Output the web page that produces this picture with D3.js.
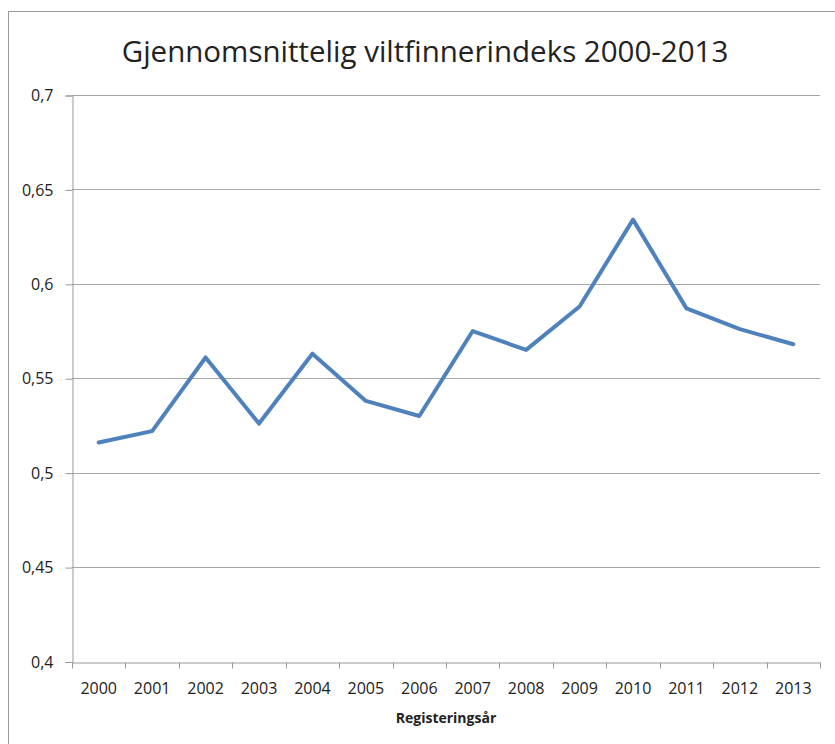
<!DOCTYPE html>
<html>
<head>
<meta charset="utf-8">
<script src="https://cdn.jsdelivr.net/npm/d3@7"></script>
<style>
  body { margin: 0; background: #fff; }
  text { font-family: "Open Sans", "Noto Sans", sans-serif; fill: #222; }
</style>
</head>
<body>
<div id="chart"></div>
<script>
const years = ['2000', '2001', '2002', '2003', '2004', '2005', '2006',
  '2007', '2008', '2009', '2010', '2011', '2012', '2013'];
const index = [0.516, 0.522, 0.561, 0.526, 0.563, 0.538, 0.530,
  0.575, 0.565, 0.588, 0.634, 0.587, 0.576, 0.568];
const yTicks = [0.4, 0.45, 0.5, 0.55, 0.6, 0.65, 0.7];

const width = 835;
const height = 744;
const margin = { top: 95, right: 15, bottom: 82, left: 72 };

const svg = d3.select('#chart').append('svg')
  .attr('width', width)
  .attr('height', height);

// frame around the chart area
svg.append('rect')
  .attr('x', 8.5).attr('y', 11.5)
  .attr('width', width).attr('height', height)
  .attr('fill', 'none')
  .attr('stroke', '#9a9a9a');

const x = d3.scaleBand()
  .domain(years)
  .range([margin.left, width - margin.right])
  .padding(0);

const y = d3.scaleLinear()
  .domain([0.4, 0.7])
  .range([height - margin.bottom - 0.5, margin.top]);

const fmt = (d) => String(+d.toFixed(2)).replace('.', ',');

// gridlines
svg.append('g')
  .selectAll('line')
  .data(yTicks.slice(1))
  .join('line')
  .attr('x1', margin.left)
  .attr('x2', width - margin.right)
  .attr('y1', (d) => Math.round(y(d)) + 0.5)
  .attr('y2', (d) => Math.round(y(d)) + 0.5)
  .attr('stroke', '#a6a6a6');

const yAxis = svg.append('g')
  .attr('transform', `translate(${margin.left + 0.5},0.5)`)
  .call(d3.axisLeft(y).tickValues(yTicks).tickFormat(fmt).tickSize(7).tickPadding(12));
yAxis.select('.domain').attr('stroke', '#999');
yAxis.selectAll('.tick line').attr('stroke', '#999');
yAxis.selectAll('.tick text')
  .attr('font-size', 16)
  .attr('fill', '#222')
  .style('font-family', '"Open Sans", sans-serif');

const bottom = Math.round(y(0.4)) + 0.5;
const xAxis = svg.append('g')
  .attr('transform', `translate(0,${bottom})`)
  .call(d3.axisBottom(x).tickSize(0).tickPadding(20));
xAxis.select('.domain').attr('stroke', '#999');
xAxis.selectAll('.tick text')
  .attr('font-size', 16)
  .attr('fill', '#222')
  .style('font-family', '"Open Sans", sans-serif');

// category boundary ticks
svg.append('g')
  .selectAll('line')
  .data(years.concat(['end']))
  .join('line')
  .attr('x1', (d, i) => Math.round(margin.left + i * x.step()) + 0.5)
  .attr('x2', (d, i) => Math.round(margin.left + i * x.step()) + 0.5)
  .attr('y1', bottom)
  .attr('y2', bottom + 6)
  .attr('stroke', '#999');

const line = d3.line()
  .x((d, i) => x(years[i]) + x.bandwidth() / 2)
  .y((d) => y(d));

svg.append('path')
  .datum(index)
  .attr('d', line)
  .attr('fill', 'none')
  .attr('stroke', '#4f81bd')
  .attr('stroke-width', 4)
  .attr('stroke-linejoin', 'round')
  .attr('stroke-linecap', 'round');

svg.append('text')
  .attr('x', 425)
  .attr('y', 62)
  .attr('text-anchor', 'middle')
  .attr('font-size', 29.5)
  .text('Gjennomsnittelig viltfinnerindeks 2000-2013');

svg.append('text')
  .attr('x', (margin.left + width - margin.right) / 2)
  .attr('y', 723)
  .attr('text-anchor', 'middle')
  .attr('font-size', 14)
  .attr('font-weight', 'bold')
  .text('Registeringsår');
</script>
</body>
</html>
